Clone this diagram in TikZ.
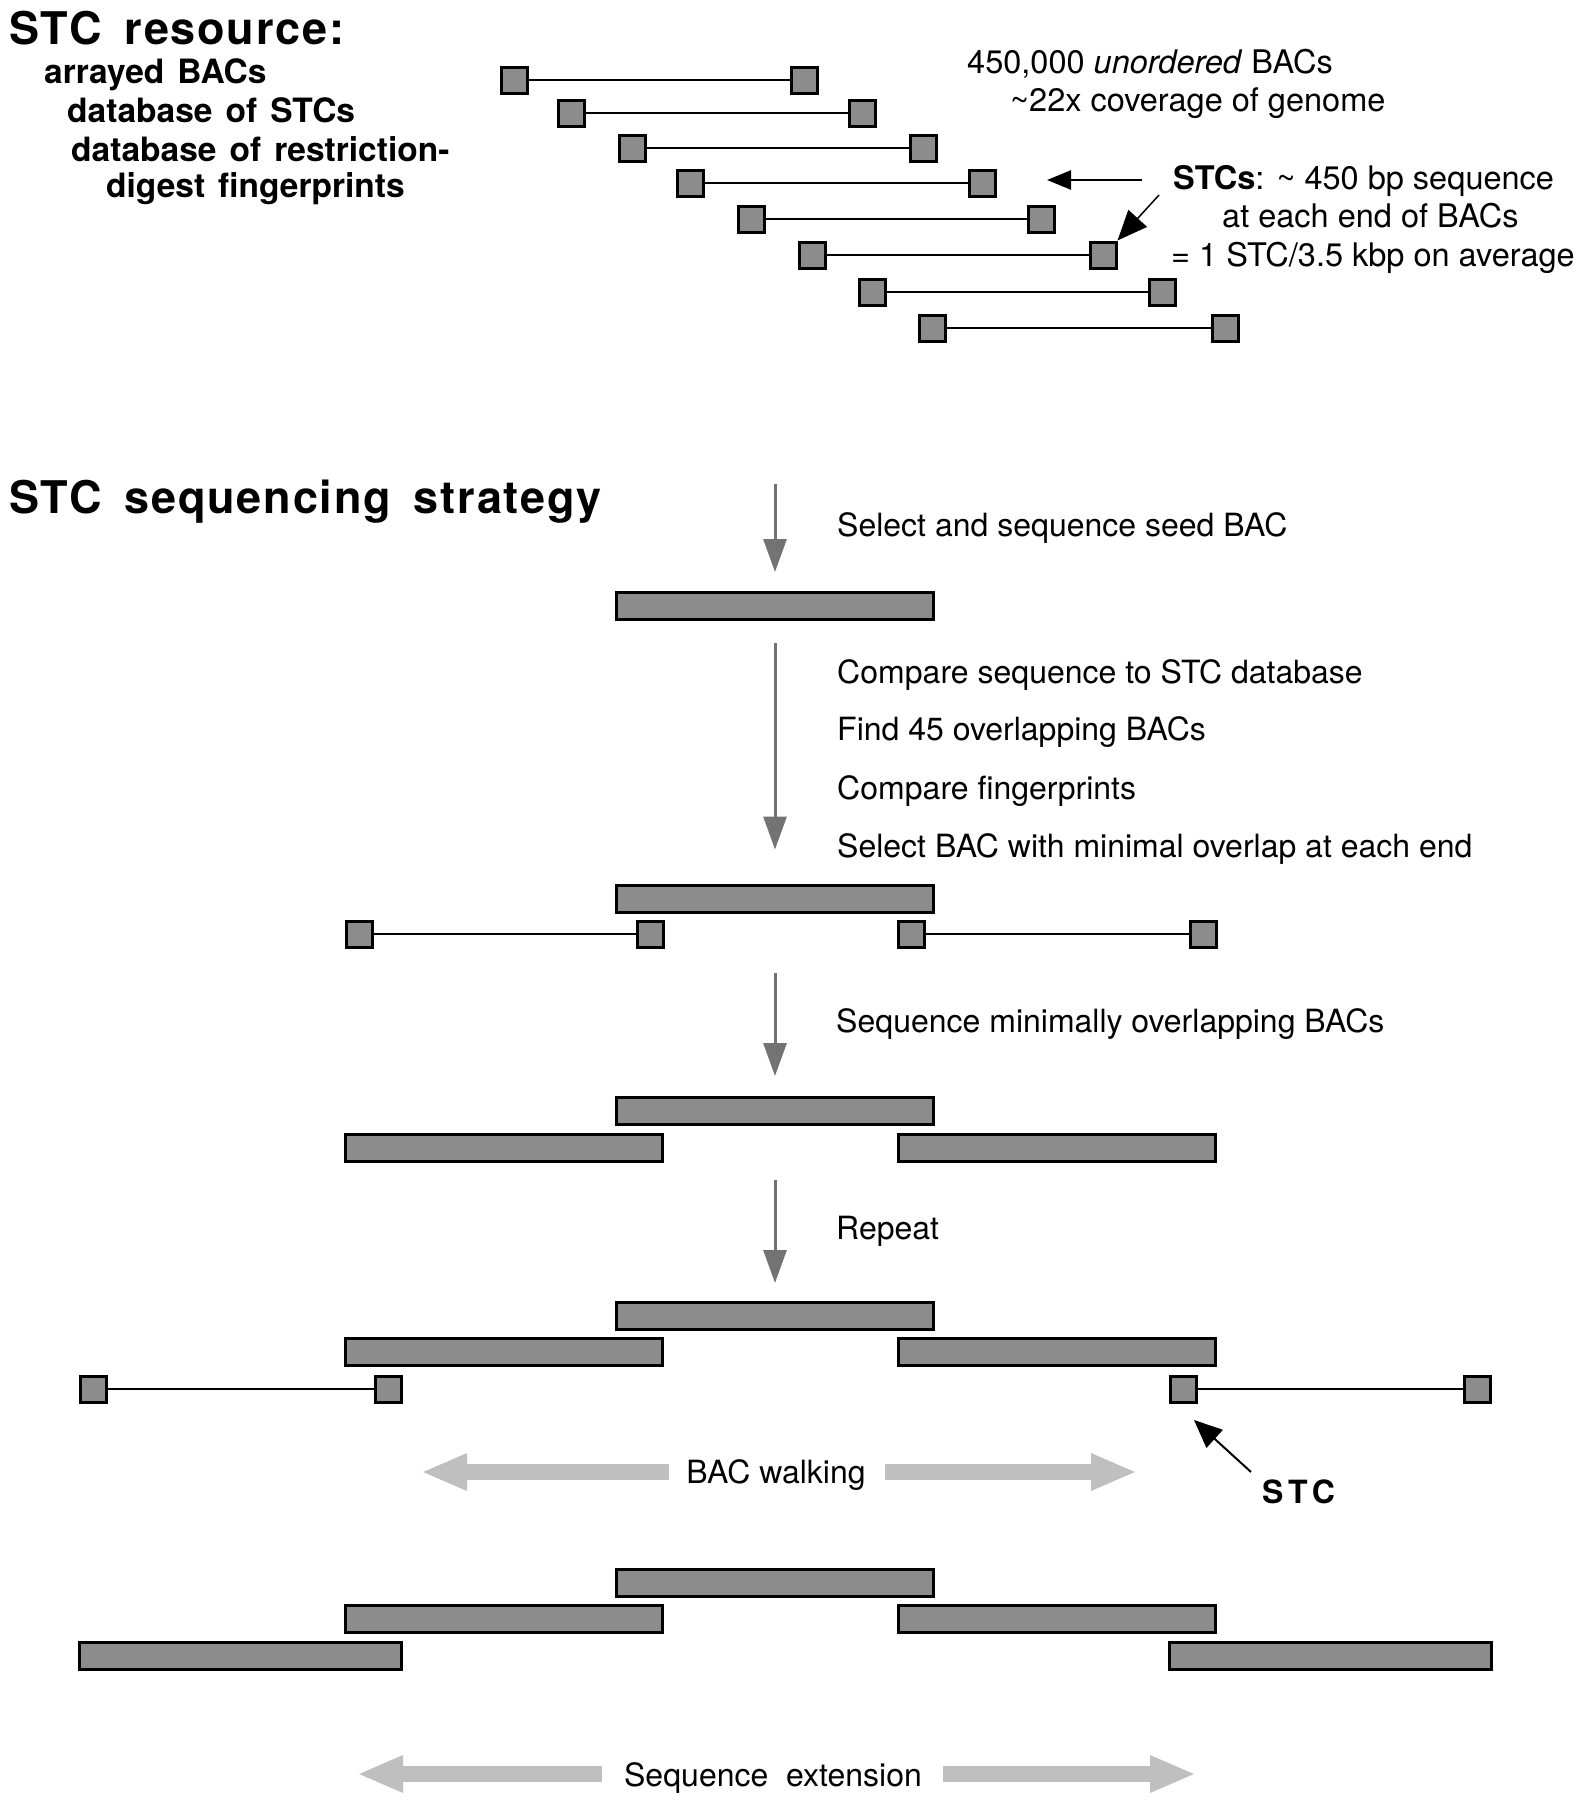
\documentclass[tikz,border=0pt]{standalone}
\usepackage{fontspec}
\setmainfont{TeX Gyre Heros}
\newfontfamily\headfont{TeX Gyre Heros}[LetterSpace=4,WordSpace=1.6]
\newfontfamily\subfont{TeX Gyre Heros}[WordSpace=1.4]
\newfontfamily\stcfont{TeX Gyre Heros}[LetterSpace=15]
\usetikzlibrary{arrows.meta}

\begin{document}
\begin{tikzpicture}[x=1pt,y=-1pt,
  stcbox/.style={draw,line width=3pt,fill=black!45,minimum width=26pt,minimum height=26pt,inner sep=0pt},
  bacbar/.style={draw,line width=3pt,fill=black!45,minimum width=317pt,minimum height=27pt,inner sep=0pt},
  bacline/.style={line width=2.8pt},
  steparrow/.style={draw=black!55,line width=3pt,-{Triangle[length=33pt,width=23pt]}},
  walkarrow/.style={draw=black!25,line width=16pt,-{Triangle[length=46pt,width=34pt]}},
  headtext/.style={anchor=base west,inner sep=0pt,font=\headfont\bfseries\fontsize{45}{54}\selectfont},
  subtext/.style={anchor=base west,inner sep=0pt,font=\subfont\bfseries\fontsize{33.5}{40}\selectfont},
  toptext/.style={anchor=base west,inner sep=0pt,font=\fontsize{32.5}{39}\selectfont},
  steptext/.style={anchor=base west,inner sep=0pt,font=\fontsize{32}{38}\selectfont}]

\fill[white] (0,0) rectangle (1586,1800);
\useasboundingbox (0,0) rectangle (1586,1800);

\node[headtext] (hres) at (9,44) {STC resource:};
\node[subtext] (res1) at (44,83) {arrayed BACs};
\node[subtext] (res2) at (67,122) {database of STCs};
\node[subtext] (res3) at (71,161) {database of restriction-};
\node[subtext] (res4) at (106,197) {digest fingerprints};

\node[stcbox] (b1l) at (514,80) {};
\node[stcbox] (b1r) at (804,80) {};
\draw[bacline] (b1l) -- (b1r);
\node[stcbox] (b2l) at (571,113) {};
\node[stcbox] (b2r) at (862,113) {};
\draw[bacline] (b2l) -- (b2r);
\node[stcbox] (b3l) at (632,148) {};
\node[stcbox] (b3r) at (923,148) {};
\draw[bacline] (b3l) -- (b3r);
\node[stcbox] (b4l) at (690,183) {};
\node[stcbox] (b4r) at (982,183) {};
\draw[bacline] (b4l) -- (b4r);
\node[stcbox] (b5l) at (751,219) {};
\node[stcbox] (b5r) at (1041,219) {};
\draw[bacline] (b5l) -- (b5r);
\node[stcbox] (b6l) at (812,255) {};
\node[stcbox] (b6r) at (1103,255) {};
\draw[bacline] (b6l) -- (b6r);
\node[stcbox] (b7l) at (872,292) {};
\node[stcbox] (b7r) at (1162,292) {};
\draw[bacline] (b7l) -- (b7r);
\node[stcbox] (b8l) at (932,328) {};
\node[stcbox] (b8r) at (1225,328) {};
\draw[bacline] (b8l) -- (b8r);

\node[toptext] (cnt1) at (967,73) {450,000 \textit{unordered} BACs};
\node[toptext] (cnt2) at (1010,111) {\textasciitilde22x coverage of genome};
\node[toptext] (stc1) at (1173,189) {\textbf{STCs}: \textasciitilde\ 450 bp sequence};
\node[toptext] (stc2) at (1222,227) {at each end of BACs};
\node[toptext] (stc3) at (1171,266) {= 1 STC/3.5 kbp on average};

\coordinate (stcfrom) at (1142,180);
\coordinate (stcto) at (1047,180);
\draw[line width=2.5pt,-{Triangle[length=24pt,width=19pt]}] (stcfrom) -- (stcto);
\coordinate (stcdiag) at (1159,195);
\draw[line width=1.5pt,-{Triangle[length=30pt,width=25pt]}] (stcdiag) -- (b6r.north east);

\node[headtext] (hseq) at (9,513) {STC sequencing strategy};

\coordinate (a1) at (775,484);
\node[bacbar] (seed) at (775,606) {};
\draw[steparrow,shorten >=19pt] (a1) -- (seed.north);
\node[steptext] (t1) at (837,536) {Select and sequence seed BAC};

\node[bacbar] (s2c) at (775,898.5) {};
\node[stcbox] (p1l) at (359,934) {};
\node[stcbox] (p1r) at (650,934) {};
\draw[bacline] (p1l) -- (p1r);
\node[stcbox] (p2l) at (911,934) {};
\node[stcbox] (p2r) at (1203,934) {};
\draw[bacline] (p2l) -- (p2r);
\draw[steparrow,shorten <=22pt,shorten >=34pt] (seed.south) -- (s2c.north);
\node[steptext] (t2) at (837,683) {Compare sequence to STC database};
\node[steptext] (t3) at (837,740) {Find 45 overlapping BACs};
\node[steptext] (t4) at (837,799) {Compare fingerprints};
\node[steptext] (t5) at (837,857) {Select BAC with minimal overlap at each end};

\node[bacbar] (s3c) at (775,1111) {};
\node[bacbar] (s3l) at (504,1148) {};
\node[bacbar] (s3r) at (1057,1148) {};
\draw[steparrow,shorten <=59pt,shorten >=20pt] (s2c.south) -- (s3c.north);
\node[steptext] (t6) at (836,1032) {Sequence minimally overlapping BACs};

\node[bacbar] (s4c) at (775,1316) {};
\node[bacbar] (s4l) at (504,1352) {};
\node[bacbar] (s4r) at (1057,1352) {};
\node[stcbox] (q1l) at (93.5,1389) {};
\node[stcbox] (q1r) at (388,1389) {};
\draw[bacline] (q1l) -- (q1r);
\node[stcbox] (q2l) at (1183,1389) {};
\node[stcbox] (q2r) at (1477,1389) {};
\draw[bacline] (q2l) -- (q2r);
\draw[steparrow,shorten <=54pt,shorten >=18pt] (s3c.south) -- (s4c.north);
\node[steptext] (t7) at (836,1239) {Repeat};

\node[anchor=base,inner sep=0pt,font=\fontsize{32}{38}\selectfont] (walk) at (776,1483) {BAC walking};
\coordinate (wl0) at (669,1472);
\coordinate (wl1) at (421,1472);
\coordinate (wr0) at (885,1472);
\coordinate (wr1) at (1137,1472);
\draw[walkarrow] (wl0) -- (wl1);
\draw[walkarrow] (wr0) -- (wr1);

\node[anchor=base west,inner sep=0pt,font=\stcfont\bfseries\fontsize{32}{38}\selectfont] (stclbl) at (1262,1503) {STC};
\coordinate (stcfoot) at (1251,1472);
\coordinate (stctip) at (1194,1420);
\draw[line width=2pt,-{Triangle[length=28pt,width=24pt]}] (stcfoot) -- (stctip);

\node[bacbar] (s5c) at (775,1582.5) {};
\node[bacbar] (s5l) at (504,1619) {};
\node[bacbar] (s5r) at (1057,1619) {};
\node[bacbar,minimum width=322pt] (s5ll) at (240.5,1656) {};
\node[bacbar,minimum width=322pt] (s5rr) at (1330,1656) {};

\node[anchor=base,inner sep=0pt,font=\fontsize{32}{38}\selectfont] (ext) at (773,1786) {Sequence\ \ extension};
\coordinate (el0) at (602,1774);
\coordinate (el1) at (357,1774);
\coordinate (er0) at (943,1774);
\coordinate (er1) at (1196,1774);
\draw[walkarrow] (el0) -- (el1);
\draw[walkarrow] (er0) -- (er1);
\end{tikzpicture}
\end{document}
